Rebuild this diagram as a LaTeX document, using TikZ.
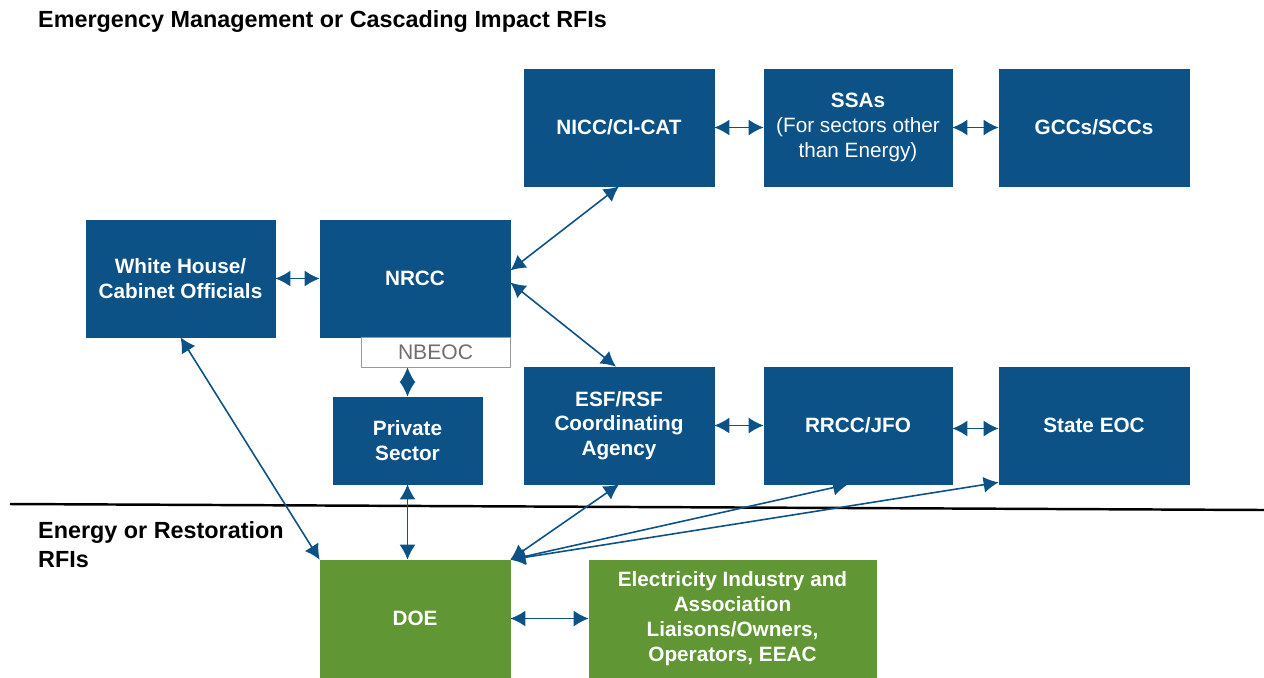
\documentclass[tikz,border=0pt]{standalone}
\usepackage{fontspec}
\setmainfont{Liberation Sans}
\usetikzlibrary{arrows.meta}

\definecolor{boxblue}{RGB}{12,82,135}
\definecolor{boxgreen}{RGB}{97,150,52}
\definecolor{nbgray}{RGB}{110,110,110}

\begin{document}
\begin{tikzpicture}[x=0.02cm, y=-0.02cm,
	box/.style={draw=boxblue, fill=boxblue, text=white, font=\fontsize{11.8}{14.1}\selectfont\bfseries,
		align=center, inner sep=2pt, minimum width=3.8cm, minimum height=2.34cm},
	greenbox/.style={box, draw=boxgreen, fill=boxgreen},
	link/.style={{Latex[length=3mm,width=3.2mm]}-{Latex[length=3mm,width=3.2mm]}, draw=boxblue, line width=0.9pt},
	title/.style={anchor=west, align=left, font=\fontsize{13.3}{16.5}\selectfont\bfseries}]

	\useasboundingbox (0,0) rectangle (1264,677);

	% titres des deux zones
	\node[title] (toptitle) at (32,22) {Emergency Management or Cascading Impact RFIs};
	\node[title] (bottomtitle) at (32,545) {Energy or Restoration\\RFIs};

	% ligne de separation
	\coordinate (sepleft) at (10,504);
	\coordinate (sepright) at (1264,510);
	\draw[line width=1.4pt] (sepleft) -- (sepright);

	% rangee du haut
	\node[box] (nicc) at (619,127.5) {NICC/CI-CAT};
	\node[box, minimum width=3.76cm] (ssa) at (858,127.5) {SSAs\\\mdseries(For sectors other\\\mdseries than Energy)};
	\node[box] (gcc) at (1094,127.5) {GCCs/SCCs};

	% rangee du milieu
	\node[box, minimum width=3.78cm] (wh) at (180.5,278.5) {White House/\\Cabinet Officials};
	\node[box] (nrcc) at (415,278.5) {NRCC};
	\node[draw=nbgray!70, text=nbgray, font=\fontsize{12}{14}\selectfont, minimum width=2.98cm, minimum height=0.6cm, inner sep=0pt] (nbeoc) at (435.5,352) {NBEOC};
	\node[box, minimum width=2.98cm, minimum height=1.74cm] (private) at (407.5,440.5) {Private\\Sector};
	\node[box] (esf) at (619,425.5) {ESF/RSF\\Coordinating\\Agency};
	\node[box, minimum width=3.76cm] (rrcc) at (858,425.5) {RRCC/JFO};
	\node[box] (state) at (1094,425.5) {State EOC};

	% rangee du bas
	\node[greenbox] (doe) at (415,618.5) {DOE};
	\node[greenbox, minimum width=5.74cm] (elec) at (732.5,618.5) {Electricity Industry and\\Association\\Liaisons/Owners,\\Operators, EEAC};

	% liaisons
	\draw[link] (nicc) -- (ssa);
	\draw[link] (ssa) -- (gcc);
	\draw[link] (wh) -- (nrcc);
	\draw[link] ([yshift=0.16cm]nrcc.east) -- (nicc.south);
	\draw[link] ([yshift=-0.08cm]nrcc.east) -- ([xshift=-0.06cm]esf.north);
	\draw[link] (private.north |- nbeoc.south) -- (private.north);
	\draw[link] (esf) -- (rrcc);
	\draw[link] ([yshift=-0.06cm]rrcc.east) -- ([yshift=-0.06cm]state.west);
	\draw[link] (doe.north west) -- (wh.south);
	\draw[link] (private.south) -- (private.south |- doe.north);
	\draw[link] (doe.north east) -- (esf.south);
	\draw[link] (doe.north east) -- ([xshift=-0.2cm]rrcc.south);
	\draw[link] (doe.north east) -- ([yshift=0.04cm]state.south west);
	\draw[link] (doe) -- (elec);

\end{tikzpicture}
\end{document}
